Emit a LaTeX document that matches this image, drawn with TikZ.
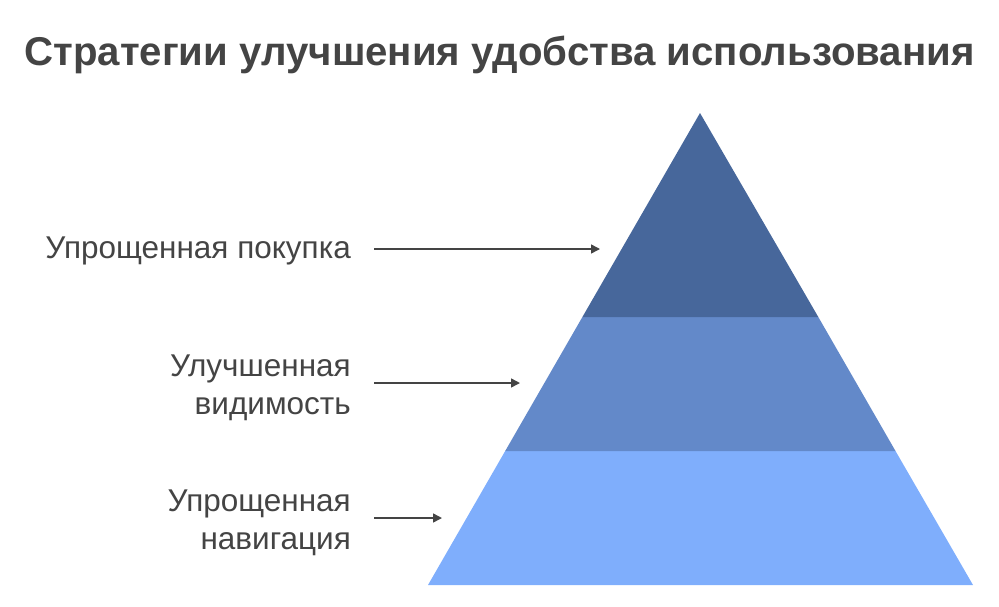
\documentclass[tikz,border=0pt]{standalone}
\usepackage{fontspec}
\setmainfont{Liberation Sans}
\usetikzlibrary{arrows.meta}

\definecolor{tierTop}{HTML}{47679B}
\definecolor{tierMid}{HTML}{6389C9}
\definecolor{tierLow}{HTML}{7FAEFC}
\definecolor{textGrey}{HTML}{444444}

\tikzset{
	tierLabel/.style={anchor=base east, align=right, text=textGrey, inner sep=0pt,
		font=\fontsize{31.5}{37.5}\selectfont},
	pointer/.style={-{Triangle[length=9pt,width=9pt]}, line width=1.5pt, draw=textGrey},
}

\begin{document}
\begin{tikzpicture}[x=1pt,y=-1pt]
		\useasboundingbox (0,0) rectangle (999,606);
		
		%Coordinates
		\coordinate (apex) at (700,113);
		\coordinate (baseL) at (428,585);
		\coordinate (baseR) at (973,585);
		\coordinate (midL) at (582.4,317);
		\coordinate (midR) at (818.3,317);
		\coordinate (lowL) at (505.2,451);
		\coordinate (lowR) at (895.5,451);
		
		%Title
		\node[anchor=base, text=textGrey, inner sep=0pt, font=\fontsize{40.2}{48}\selectfont\bfseries]
			(title) at (499.5,65) {Стратегии улучшения удобства использования};
		
		%Tiers
		\fill[tierLow] (lowL) -- (lowR) -- (baseR) -- (baseL) -- cycle;
		\fill[tierMid] (midL) -- (midR) -- (lowR) -- (lowL) -- cycle;
		\fill[tierTop] (apex) -- (midR) -- (midL) -- cycle;
		
		%Labels (base = last line)
		\node[tierLabel] (buy) at (351,258) {Упрощенная покупка};
		\node[tierLabel] (see) at (351,414) {Улучшенная\\видимость};
		\node[tierLabel] (nav) at (351,549) {Упрощенная\\навигация};
		
		%Arrows
		\coordinate (buyS) at (374,249);
		\coordinate (buyE) at (600,249);
		\coordinate (seeS) at (374,383);
		\coordinate (seeE) at (520,383);
		\coordinate (navS) at (374,518);
		\coordinate (navE) at (442,518);
		\draw[pointer] (buyS) -- (buyE);
		\draw[pointer] (seeS) -- (seeE);
		\draw[pointer] (navS) -- (navE);
		
	\end{tikzpicture}
\end{document}
